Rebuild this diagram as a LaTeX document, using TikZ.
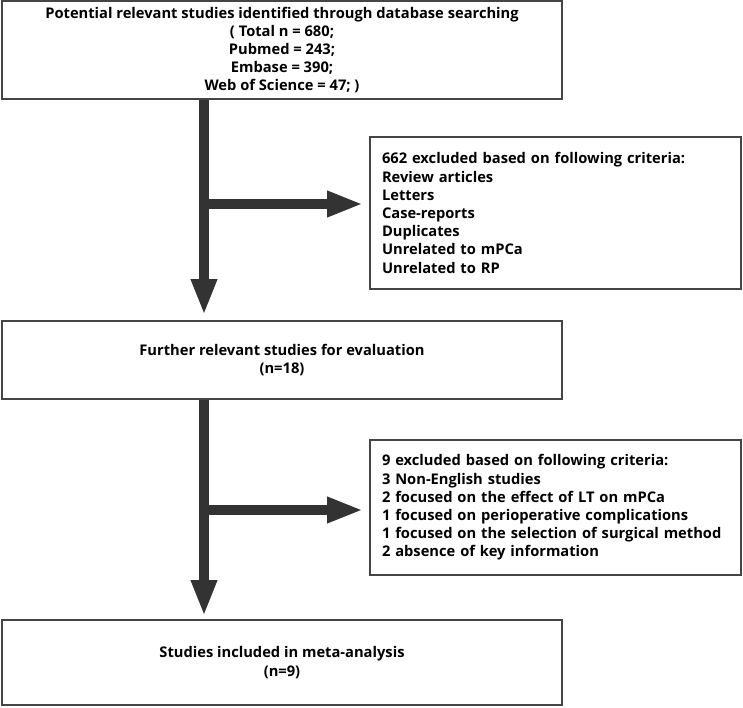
\documentclass[tikz,border=0pt]{standalone}
\usepackage{fontspec}
\setmainfont{Open Sans}
\usetikzlibrary{arrows.meta,calc}
\definecolor{boxgray}{HTML}{454545}
\definecolor{arrowgray}{HTML}{333333}
\tikzset{
  mainbox/.style={draw=boxgray, line width=1.8pt, minimum width=560pt, align=center, inner sep=0pt,
    font=\bfseries\fontsize{14.7}{18.2}\selectfont},
  exbox/.style={draw=boxgray, line width=1.8pt, text width=347pt, inner xsep=12pt, inner ysep=0pt,
    align=left, minimum width=371pt, font=\bfseries\fontsize{14.7}{18.2}\selectfont},
  bigarrow/.style={draw=arrowgray, line width=10pt, -{Triangle[length=36pt,width=24pt]}},
}
\begin{document}
\begin{tikzpicture}[x=1pt,y=-1pt]
\useasboundingbox (0,0) rectangle (743,707);
\node[mainbox, minimum height=98pt] (top) at (282,50) {Potential relevant studies identified through database searching\\( Total n = 680;\\Pubmed = 243;\\Embase = 390;\\Web of Science = 47; )};
\node[exbox, minimum height=152pt] (ex1) at (555.5,213) {662 excluded based on following criteria:\\Review articles\\Letters\\Case-reports\\Duplicates\\Unrelated to mPCa\\Unrelated to RP};
\node[mainbox, minimum height=78pt] (mid) at (282,360) {Further relevant studies for evaluation\\(n=18)};
\node[exbox, minimum height=135pt] (ex2) at (555.5,507.5) {9 excluded based on following criteria:\\3 Non-English studies\\2 focused on the effect of LT on mPCa\\1 focused on perioperative complications\\1 focused on the selection of surgical method\\2 absence of key information};
\node[mainbox, minimum height=85pt] (fin) at (282,662.5) {Studies included in meta-analysis\\(n=9)};
\coordinate (sx) at (204,0);
\coordinate (b1) at (204,204);
\coordinate (b2) at (204,510);
\draw[bigarrow] (top.south -| sx) -- ($(mid.north -| sx)+(0,-5)$);
\draw[bigarrow] (mid.south -| sx) -- ($(fin.north -| sx)+(0,-3)$);
\draw[bigarrow] (b1) -- ($(b1 -| ex1.west)+(-6,0)$);
\draw[bigarrow] (b2) -- ($(b2 -| ex2.west)+(-6,0)$);
\end{tikzpicture}
\end{document}
